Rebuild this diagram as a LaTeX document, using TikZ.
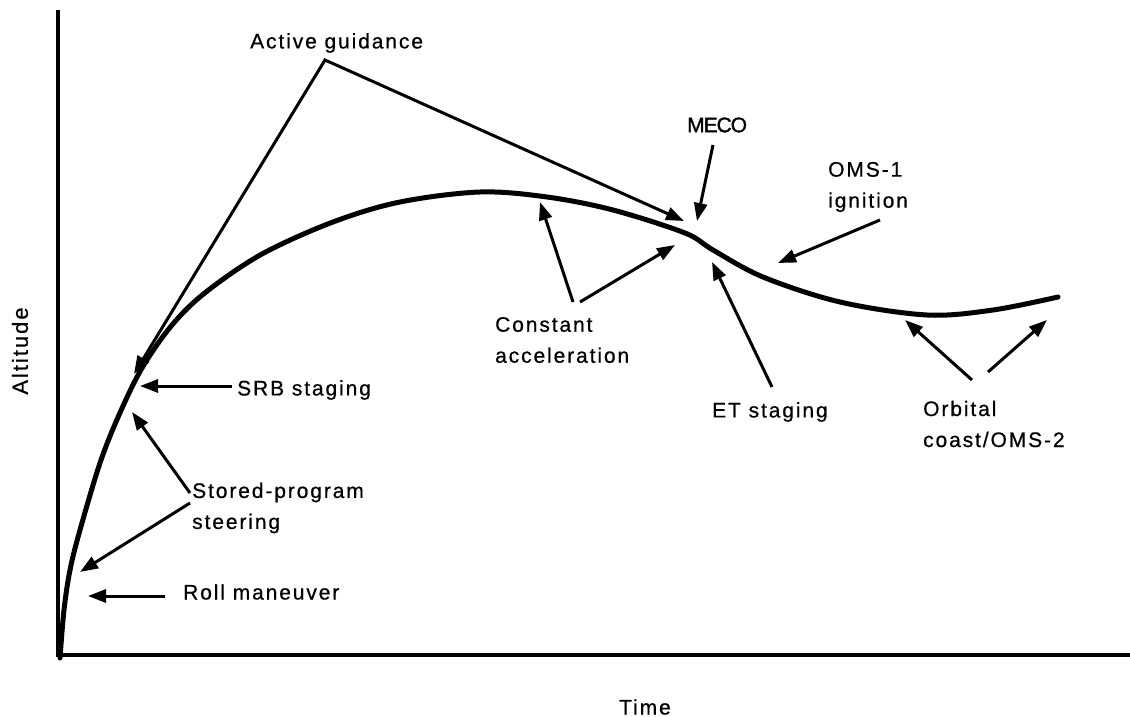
\documentclass[tikz,border=0pt]{standalone}
\usepackage{fontspec}
\setmainfont{Liberation Sans}[LetterSpace=9,FakeBold=0.6]
\newfontfamily\mecofont{Liberation Sans}[LetterSpace=-5,FakeBold=1.5]
\usetikzlibrary{arrows.meta}
\begin{document}
\begin{tikzpicture}[x=1pt,y=-1pt,
  lbl/.style={font=\fontsize{21}{31}\selectfont, inner sep=0pt, align=left, anchor=west},
  arr/.style={line width=3pt, -{Triangle[length=18pt,width=13pt]}},
  darr/.style={line width=3pt, {Triangle[length=18pt,width=13pt]}-{Triangle[length=18pt,width=13pt]}, line join=miter},
  axis/.style={line width=4pt},
  traj/.style={line width=5pt, line cap=round}]
\useasboundingbox (0,0) rectangle (1130,717);
% axes
\coordinate (ytop) at (58,10);
\coordinate (orig) at (58,655);
\coordinate (xend) at (1130,655);
\draw[axis] (ytop) -- (orig) -- (xend);
\node[font=\fontsize{22}{26}\selectfont, rotate=90, inner sep=0pt] (alt) at (20,351) {Altitude};
\node[font=\fontsize{21}{25}\selectfont, inner sep=0pt] (time) at (645,707) {Time};
% trajectory
\draw[traj] plot[smooth, tension=0.55] coordinates {(60,658) (64,610) (70,570) (80,530) (100,463) (119,415) (142,368) (172,325) (206,292) (262,254) (333,222) (400,202) (480,192) (547,197) (613,210) (685,233) (713,250) (763,277) (840,302) (927,315) (993,310) (1058,297)};
% labels
\node[lbl] (ag) at (250,43) {Active guidance};
\node[lbl, font=\mecofont\fontsize{21}{25}\selectfont] (meco) at (687,125) {MECO};
\node[lbl] (oms1) at (828,187) {OMS-1\\ignition};
\node[lbl] (srb) at (237,390) {SRB staging};
\node[lbl] (sps) at (192,508) {Stored-program\\steering};
\node[lbl] (roll) at (183,592) {Roll maneuver};
\node[lbl] (ca) at (495,340) {Constant\\acceleration};
\node[lbl] (et) at (712,412) {ET staging};
\node[lbl] (oc) at (923,424) {Orbital\\coast/OMS-2};
% arrow coordinates
\coordinate (agA) at (325,60);
\coordinate (agT1) at (134,374);
\coordinate (agT2) at (684,221);
\coordinate (mecoS) at (713,145);
\coordinate (mecoT) at (697,221);
\coordinate (omsS) at (880,220);
\coordinate (omsT) at (778,263);
\coordinate (srbS) at (232,386);
\coordinate (srbT) at (140,386);
\coordinate (spsS1) at (190,493);
\coordinate (spsT1) at (132,412);
\coordinate (spsS2) at (190,503);
\coordinate (spsT2) at (80,572);
\coordinate (rollS) at (165,596);
\coordinate (rollT) at (88,596);
\coordinate (caS1) at (573,302);
\coordinate (caT1) at (540,202);
\coordinate (caS2) at (580,302);
\coordinate (caT2) at (675,245);
\coordinate (etS) at (772,387);
\coordinate (etT) at (712,262);
\coordinate (ocS1) at (972,380);
\coordinate (ocT1) at (905,320);
\coordinate (ocS2) at (988,372);
\coordinate (ocT2) at (1047,320);
% arrows
\draw[darr] (agT1) -- (agA) -- (agT2);
\draw[arr] (mecoS) -- (mecoT);
\draw[arr] (omsS) -- (omsT);
\draw[arr] (srbS) -- (srbT);
\draw[arr] (spsS1) -- (spsT1);
\draw[arr] (spsS2) -- (spsT2);
\draw[arr] (rollS) -- (rollT);
\draw[arr] (caS1) -- (caT1);
\draw[arr] (caS2) -- (caT2);
\draw[arr] (etS) -- (etT);
\draw[arr] (ocS1) -- (ocT1);
\draw[arr] (ocS2) -- (ocT2);
\end{tikzpicture}
\end{document}
